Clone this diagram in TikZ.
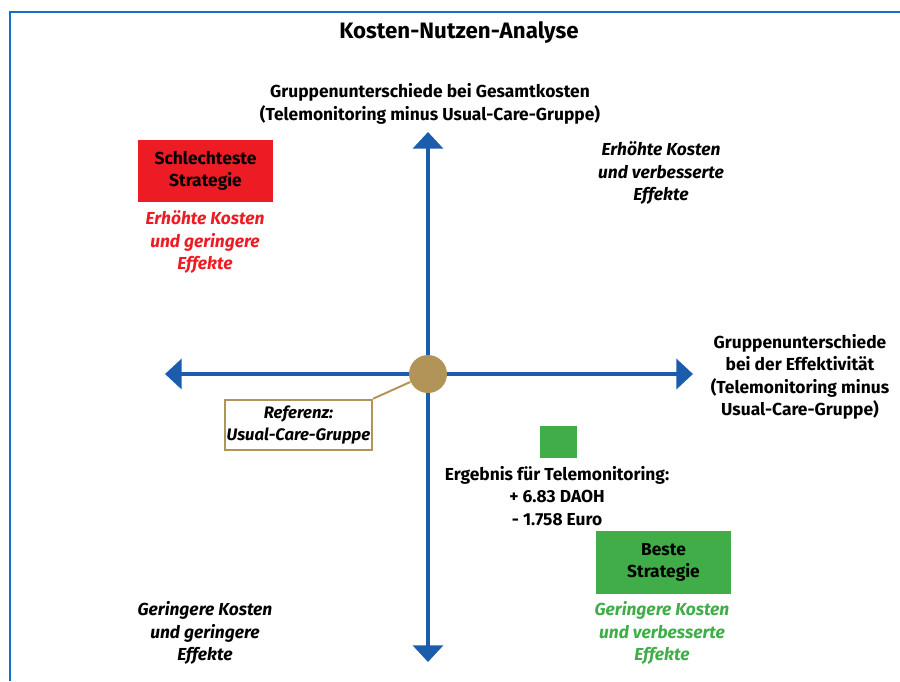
\documentclass[tikz,border=0pt]{standalone}
\usepackage{fontspec}
\setmainfont{Fira Sans}
\usetikzlibrary{arrows.meta, positioning}

\definecolor{axisblue}{RGB}{28,92,172}
\definecolor{frameblue}{RGB}{22,112,200}
\definecolor{refgold}{RGB}{178,148,88}
\definecolor{badred}{RGB}{237,28,36}
\definecolor{goodgreen}{RGB}{65,173,73}

\begin{document}
\begin{tikzpicture}[x=0.02cm,y=-0.02cm,
    font=\bfseries\fontsize{9.9}{12.8}\selectfont,
    axis/.style={draw=axisblue, line width=2.8pt,
      {Triangle[width=17pt,length=9.5pt]}-{Triangle[width=17pt,length=9.5pt]}},
    lbl/.style={align=center},
    quad/.style={align=center, font=\bfseries\itshape\fontsize{9.9}{12.8}\selectfont},
    strat/.style={minimum width=2.7cm, minimum height=1.25cm, align=center}]
    \useasboundingbox (0,0) rectangle (900,681);

    % Frame
    \draw[frameblue, line width=1pt] (10,681) -- (10,12) -- (900,12);

    % Title
    \node[font=\bfseries\fontsize{12.7}{15}\selectfont] (title) at (459,32) {Kosten-Nutzen-Analyse};

    % Axes
    \coordinate (ytop) at (428,132);
    \coordinate (ybot) at (428,662);
    \coordinate (xleft) at (165,374);
    \coordinate (xright) at (693,374);
    \draw[axis] (ybot) -- (ytop);
    \draw[axis] (xleft) -- (xright);

    % Axis labels
    \node[lbl] (ylabel) at (430,104) {Gruppenunterschiede bei Gesamtkosten\\(Telemonitoring minus Usual-Care-Gruppe)};
    \node[lbl] (xlabel) at (800,377) {Gruppenunterschiede\\bei der Effektivität\\(Telemonitoring minus\\Usual-Care-Gruppe)};

    % Reference point
    \node[quad, font=\bfseries\itshape\fontsize{9.5}{12.8}\selectfont, draw=refgold, line width=1.1pt,
      inner xsep=1pt, minimum width=2.94cm, minimum height=1cm, fill=white] (ref) at (298.5,425) {Referenz:\\Usual-Care-Gruppe};
    \node[circle, fill=refgold, minimum size=0.76cm, inner sep=0pt] (origin) at (428,374) {};
    \draw[refgold, line width=1.1pt] (origin) -- (ref.north east);

    % Quadrants
    \node[strat, fill=badred] (worst) at (205.5,171) {Schlechteste\\Strategie};
    \node[quad, text=badred] (worsttxt) at (205,242) {Erhöhte Kosten\\und geringere\\Effekte};
    \node[quad] (upright) at (661,173) {Erhöhte Kosten\\und verbesserte\\Effekte};
    \node[quad] (lowleft) at (205,633) {Geringere Kosten\\und geringere\\Effekte};
    \node[strat, fill=goodgreen] (best) at (663.5,562.5) {Beste\\Strategie};
    \node[quad, text=goodgreen] (besttxt) at (662,633) {Geringere Kosten\\und verbesserte\\Effekte};

    % Result
    \node[fill=goodgreen, minimum width=0.74cm, minimum height=0.64cm, inner sep=0pt] (result) at (558.5,442) {};
    \node[lbl] (resulttxt) at (557,496) {Ergebnis für Telemonitoring:\\+ 6.83 DAOH\\- 1.758 Euro};
\end{tikzpicture}
\end{document}
